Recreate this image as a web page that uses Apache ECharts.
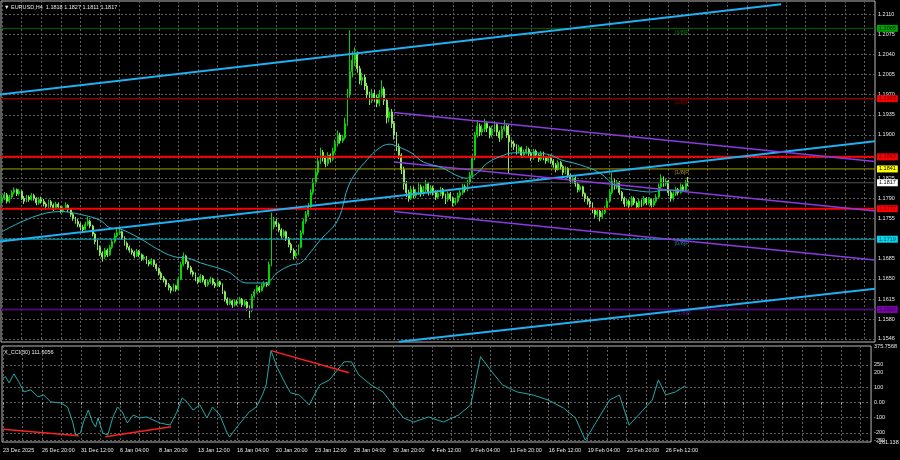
<!DOCTYPE html>
<html><head><meta charset="utf-8">
<script src="https://cdn.jsdelivr.net/npm/echarts@6/dist/echarts.min.js"></script>
<style>html,body{margin:0;padding:0;background:#000}#c{width:900px;height:460px}</style>
</head><body><div id="c"></div>
<script>
// prices are stored as pips above BASE (1.1500)
const BASE = 1.15;
// H4 candles: [open, close, low, high] in pips above BASE
const candles = [
[285,290,281,296],[290,296,287,301],[296,285,281,299],[285,292,282,296],[292,300,289,304],[300,305,297,309],[305,298,294,307],[298,302,295,306],[302,290,287,304],[290,285,280,294],[285,292,283,296],[292,288,284,295],[288,295,286,299],[295,290,286,298],[290,282,278,292],[282,288,279,292],
[288,285,281,293],[285,280,276,289],[280,276,271,283],[276,284,273,288],[284,278,274,287],[278,272,268,281],[272,280,270,284],[280,275,271,283],[275,268,264,277],[268,272,265,276],[272,278,270,283],[278,270,266,280],[270,262,258,272],[262,255,251,265],[255,250,246,258],[250,245,240,254],
[245,240,235,248],[240,236,231,244],[236,245,234,249],[245,250,242,258],[250,242,238,253],[242,228,224,244],[228,215,210,230],[215,205,200,218],[205,195,190,208],[195,188,180,198],[188,200,185,204],[200,192,188,203],[192,205,190,209],[205,215,202,220],[215,225,212,230],[225,230,222,238],
[230,232,226,240],[232,222,218,234],[222,212,208,224],[212,205,201,215],[205,200,196,208],[200,196,192,203],[196,190,186,199],[190,198,188,202],[198,192,188,200],[192,185,181,194],[185,188,182,192],[188,180,176,190],[180,176,172,183],[176,182,174,186],[182,175,171,184],[175,168,164,177],
[168,160,156,170],[160,152,148,163],[152,148,144,155],[148,140,136,150],[140,135,130,143],[135,130,125,138],[130,138,128,142],[138,132,128,140],[132,150,130,154],[150,175,148,180],[175,190,172,196],[190,180,176,192],[180,170,166,182],[170,162,158,173],[162,158,154,165],[158,150,146,161],
[150,145,141,153],[145,155,143,159],[155,148,144,157],[148,140,136,150],[140,145,137,149],[145,150,142,154],[150,142,139,152],[142,138,134,145],[138,145,136,149],[145,140,136,147],[140,128,124,142],[128,115,111,130],[115,108,104,118],[108,112,105,116],[112,105,100,114],[105,110,102,114],
[110,108,104,114],[108,115,106,119],[115,105,101,117],[105,110,102,114],[110,100,94,112],[100,95,82,104],[95,120,92,124],[120,128,117,132],[128,135,125,139],[135,130,126,138],[130,138,128,142],[138,142,135,146],[142,140,136,145],[140,175,138,180],[175,240,172,265],[240,250,236,258],
[250,245,240,254],[245,235,231,248],[235,225,221,238],[225,232,222,236],[232,220,216,234],[220,210,205,223],[210,200,195,213],[200,190,184,203],[190,195,186,199],[195,205,192,210],[205,230,203,235],[230,250,227,255],[250,262,246,268],[262,275,258,282],[275,300,272,306],[300,318,296,325],
[318,335,314,342],[335,355,330,362],[355,370,350,378],[370,360,354,374],[360,350,344,364],[350,365,346,370],[365,358,352,368],[358,372,355,378],[372,385,368,392],[385,400,380,408],[400,390,385,404],[390,395,386,400],[395,420,392,430],[420,470,416,480],[470,510,465,582],[510,530,500,545],
[530,540,520,552],[540,515,508,545],[515,495,488,520],[495,500,486,508],[500,485,478,505],[485,470,463,490],[470,460,452,475],[460,472,455,480],[472,465,458,478],[465,455,448,470],[455,470,450,478],[470,480,465,495],[480,460,452,484],[460,430,420,463],[430,440,422,448],[440,420,412,445],
[420,400,392,424],[400,380,372,405],[380,365,358,385],[365,340,332,368],[340,315,305,345],[315,300,292,320],[300,290,284,305],[290,305,287,312],[305,295,290,310],[295,300,290,306],[300,310,296,318],[310,298,293,314],[298,305,294,312],[305,315,300,322],[315,300,295,318],[300,308,296,313],
[308,300,295,312],[300,292,287,304],[292,298,289,304],[298,305,294,310],[305,295,290,308],[295,288,280,298],[288,298,284,302],[298,290,285,301],[290,282,276,293],[282,285,278,291],[285,295,282,300],[295,300,291,305],[300,310,296,315],[310,305,300,314],[305,318,302,322],[318,330,314,336],
[330,360,327,366],[360,400,356,405],[400,415,395,426],[415,405,398,420],[405,410,400,418],[410,420,405,428],[420,412,405,424],[412,400,394,415],[400,410,396,416],[410,418,405,424],[418,405,398,420],[405,395,388,408],[395,410,392,416],[410,415,406,426],[415,400,395,418],[400,388,334,418],
[388,385,378,392],[385,380,374,390],[380,372,366,384],[372,378,368,383],[378,365,360,380],[365,370,361,375],[370,375,366,381],[375,368,363,378],[368,360,355,371],[360,372,357,376],[372,365,360,375],[365,358,353,368],[358,368,355,372],[368,360,356,371],[360,355,350,363],[355,362,352,367],
[362,355,350,365],[355,348,343,358],[348,340,335,351],[340,352,338,356],[352,345,340,355],[345,335,330,348],[335,342,332,346],[342,330,325,344],[330,320,315,333],[320,325,316,330],[325,315,310,328],[315,305,300,318],[305,310,302,314],[310,298,293,312],[298,290,284,300],[290,285,279,294],
[285,280,274,289],[280,270,264,283],[270,262,256,274],[262,268,258,273],[268,258,250,270],[258,265,254,270],[265,272,262,277],[272,285,270,290],[285,300,282,306],[300,320,297,334],[320,310,305,324],[310,318,306,322],[318,300,296,320],[300,290,285,303],[290,280,275,293],[280,285,276,289],
[285,278,272,288],[278,290,275,294],[290,282,278,293],[282,275,270,285],[275,285,272,289],[285,280,275,288],[280,290,277,294],[290,282,278,292],[282,288,279,292],[288,278,274,290],[278,285,275,289],[285,292,282,297],[292,310,289,316],[310,325,306,332],[325,315,310,328],[315,320,311,324],
[320,300,294,322],[300,290,284,303],[290,298,286,302],[298,305,294,310],[305,300,295,308],[300,310,298,316],[310,305,301,314],[305,318,302,322],[318,317,311,327]
];
// moving average: [bar, pips]
const maPoints = [[0,232],[13,258],[24,267],[32,262],[40,252],[44,239],[48,237],[56,221],[63,203],[70,189],[76,186],[81,178],[92,163],[100,143],[108,143],[112,160],[118,174],[122,178],[126,197],[130,218],[137,252],[142,317],[149,357],[154,377],[158,384],[162,379],[167,369],[172,353],[179,344],[187,327],[190,325],[194,334],[198,351],[203,362],[209,369],[217,369],[224,365],[228,357],[236,348],[244,334],[251,310],[258,304],[265,301],[270,304],[280,304]];
// CCI(30): [bar, value]
const cciPoints = [[0,163],[1,173],[2.5,131],[4.5,191],[6.5,138],[8.6,71],[11.4,85],[14.3,38],[16.7,51],[19.6,5],[23.7,-2],[26.5,-29],[28.6,-129],[29.8,-215],[31.8,-202],[33,-129],[35,-49],[36.7,-129],[38,-162],[39,-102],[41,-202],[43,-215],[45,-102],[47,-29],[49,-62],[51,-135],[53.5,-82],[56,-102],[59,-95],[61.6,-115],[64.5,-135],[68.6,-149],[71.4,-62],[73.5,31],[75.5,5],[78,-49],[80.8,-15],[83.7,-102],[86,-29],[89,-82],[91.8,-195],[93,-229],[96,-162],[98.4,-115],[101,-62],[104,-29],[106.5,51],[108,118],[110,345],[112.6,231],[115.5,138],[118,65],[121.6,51],[125.7,-15],[130,118],[134,151],[140,271],[143,271],[146,185],[151,118],[156,71],[160,-15],[164.5,-102],[168.6,-129],[174.7,-95],[180.8,-129],[187,-82],[192,-15],[196,305],[200,218],[205,118],[211,71],[217.5,51],[223.7,18],[230,-35],[235,-102],[239,-249],[244,-115],[249,18],[253,51],[257,-149],[262,-62],[266.5,18],[269,151],[272,51],[276,71],[280,112]];
// CCI divergence lines: [[bar, value],[bar, value]]
const cciLines = [[[0,-177],[31,-220]],[[42,-227],[69,-160]],[[110,345],[142,198]]];
// trend lines: [[bar, pips],[bar, pips]]
const blueLines = [[[-1,470],[318,627]],[[-1,215],[356.3,389]],[[162,41],[356.3,133]]];
const purpleLines = [[[160,439],[356.3,354]],[[160,353],[356.3,268]],[[160,267],[356.3,183]]];
// horizontal levels
const levelPrices = [1.2085, 1.1963, 1.1862, 1.1841, 1.1817, 1.1772, 1.1719, 1.1597];
const levelTags = ['1.2085','1.1963','1.1862','1.1841','1.1817','1.1772','1.1719','1.1597'];
const murreyPrices = [1.2085, 1.1963, 1.1841, 1.1719, 1.1597];
const murreyTags = ['[3/8]P','[2/8]P','[1/8]P','[0/8]P','[-1/8]P'];
const murreyBar = 274.5;
// axis ticks
const priceTicks = [1.1546,1.1580,1.1615,1.1650,1.1685,1.1720,1.1755,1.1790,1.1825,1.1862,1.1900,1.1935,1.1970,1.2005,1.2040,1.2075,1.2110];
const cciLabelTicks = [375.7568,250,200,100,0,-100,-200,-250];
const cciGridTicks = [250,100,0,-100,-200,-250];
const cciMinTag = '-261.138';
const timeTickBars = [0,16,32,48,64,80,96,112,128,144,160,176,192,208,224,240,256,272];
const timeTickLabels = ['23 Dec 2025','26 Dec 20:00','31 Dec 12:00','6 Jan 04:00','8 Jan 20:00','13 Jan 12:00','16 Jan 04:00','20 Jan 20:00','23 Jan 12:00','28 Jan 04:00','30 Jan 20:00','4 Feb 12:00','9 Feb 04:00','11 Feb 20:00','16 Feb 12:00','19 Feb 04:00','23 Feb 20:00','26 Feb 12:00'];
const gridBars = [0,8,16,24,32,40,48,56,64,72,80,88,96,104,112,120,128,136,144,152,160,168,176,184,192,200,208,216,224,232,240,248,256,264,272,280,288,296,304,312,320,328,336,344,352];

const X_MIN = -0.4, X_MAX = 356.3;
const Y_MIN = 1.154056, Y_MAX = 1.213257;
const CCI_MIN = -261.138, CCI_MAX = 375.7568;

const P = v => +(BASE + v / 1e4).toFixed(5);
const FONT = 'Liberation Sans, DejaVu Sans, sans-serif';
const TXT = '#e8e8e8';
const FS = 5.5;
const gridLine = {show: true, lineStyle: {color: '#5e5e5e', type: [2, 2], width: 1}};

const levelStyle = [
  {line: '#006400', w: 1, bg: '#00a000', fg: '#002800'},
  {line: '#8b0000', w: 1.5, bg: '#ff0000', fg: '#600000'},
  {line: '#ff0000', w: 2, bg: '#ff0000', fg: '#600000'},
  {line: '#a8a000', w: 1, bg: '#ffff00', fg: '#000000'},
  {line: '#505050', w: 1, bg: '#ffffff', fg: '#000000'},
  {line: '#ff0000', w: 2, bg: '#ff0000', fg: '#600000'},
  {line: '#00b4cc', w: 1, bg: '#00d8f0', fg: '#003848'},
  {line: '#4b0a72', w: 2, bg: '#7a00a8', fg: '#28003c'}
];
const murreyColors = ['#00a000', '#b00000', '#c0b830', '#20a8c0', '#7020b0'];

const series = [];
// horizontal levels with right-axis price tags
levelPrices.forEach((v, i) => series.push({
  type: 'line', xAxisIndex: 0, yAxisIndex: 0, symbol: 'none', silent: true, clip: false,
  data: [[X_MIN, v], [X_MAX, v]],
  lineStyle: {color: levelStyle[i].line, width: levelStyle[i].w},
  endLabel: {show: true, distance: 2, formatter: levelTags[i],
    backgroundColor: levelStyle[i].bg, color: levelStyle[i].fg,
    fontSize: FS, fontFamily: FONT, padding: [1, 2, 0, 2]}
}));
// candles
series.push({
  type: 'candlestick', xAxisIndex: 0, yAxisIndex: 0,
  dimensions: ['x', 'open', 'close', 'lowest', 'highest'],
  encode: {x: 'x', y: ['open', 'close', 'lowest', 'highest']},
  data: candles.map((d, i) => [i, P(d[0]), P(d[1]), P(d[2]), P(d[3])]),
  barWidth: 1.4,
  itemStyle: {color: '#00c800', color0: '#a8f57a', borderColor: '#00d800', borderColor0: '#8ee860', borderWidth: 1}
});
// trend lines
blueLines.forEach(l => series.push({
  type: 'line', xAxisIndex: 0, yAxisIndex: 0, symbol: 'none', silent: true,
  data: l.map(p => [p[0], P(p[1])]), lineStyle: {color: '#1eb0f0', width: 2}
}));
purpleLines.forEach(l => series.push({
  type: 'line', xAxisIndex: 0, yAxisIndex: 0, symbol: 'none', silent: true,
  data: l.map(p => [p[0], P(p[1])]), lineStyle: {color: '#8a3ae0', width: 1.5}
}));
// moving average
series.push({
  type: 'line', xAxisIndex: 0, yAxisIndex: 0, symbol: 'none', smooth: 0.4, silent: true,
  data: maPoints.map(p => [p[0], P(p[1])]), lineStyle: {color: '#2ab4c8', width: 1}
});
// murrey labels
series.push({
  type: 'scatter', xAxisIndex: 0, yAxisIndex: 0, symbolSize: 0, silent: true,
  data: murreyPrices.map((v, i) => ({
    value: [murreyBar, v],
    label: {show: true, position: [0, 1], align: 'left', verticalAlign: 'top', formatter: murreyTags[i],
      color: murreyColors[i], fontSize: FS, fontFamily: FONT}
  }))
});
// CCI
series.push({
  type: 'line', xAxisIndex: 1, yAxisIndex: 1, symbol: 'none', silent: true,
  data: cciPoints, lineStyle: {color: '#20aaa8', width: 1}
});
cciLines.forEach(l => series.push({
  type: 'line', xAxisIndex: 1, yAxisIndex: 1, symbol: 'none', silent: true,
  data: l, lineStyle: {color: '#ff2020', width: 1.5}
}));

const tStyle = {color: TXT, fontSize: FS, fontFamily: FONT, fontWeight: 'normal'};
const chart = echarts.init(document.getElementById('c'), null, {renderer: 'canvas'});
chart.setOption({
  backgroundColor: '#000',
  animation: false,
  title: [
    {text: '\u25BC EURUSD,H4  1.1818 1.1827 1.1811 1.1817', left: 4, top: 4, padding: 0, textStyle: tStyle},
    {text: 'X_CCI(30) 111.6056', left: 4, top: 349, padding: 0, textStyle: tStyle},
    {text: cciMinTag, left: 877, top: 439, padding: 0, textStyle: tStyle}
  ],
  grid: [
    {left: 1, right: 25, top: 1, height: 341, show: true, borderColor: '#b8b8b8', borderWidth: 1, backgroundColor: 'transparent'},
    {left: 1, right: 25, top: 346, height: 96, show: true, borderColor: '#b8b8b8', borderWidth: 1, backgroundColor: 'transparent'}
  ],
  xAxis: [
    {type: 'value', gridIndex: 0, min: X_MIN, max: X_MAX,
      axisLine: {show: false}, axisTick: {show: false, customValues: gridBars},
      axisLabel: {show: false}, splitLine: gridLine},
    {type: 'value', gridIndex: 1, min: X_MIN, max: X_MAX,
      axisLine: {show: false},
      axisTick: {show: true, customValues: gridBars, length: 2, lineStyle: {color: '#b8b8b8'}},
      axisLabel: {show: true, customValues: timeTickBars, align: 'left', margin: 5,
        formatter: v => timeTickLabels[timeTickBars.indexOf(Math.round(v))] || '',
        color: TXT, fontSize: FS, fontFamily: FONT},
      splitLine: gridLine}
  ],
  yAxis: [
    {type: 'value', gridIndex: 0, position: 'right', min: Y_MIN, max: Y_MAX,
      axisLine: {show: false}, axisTick: {show: false, customValues: priceTicks},
      axisLabel: {show: true, customValues: priceTicks, margin: 3, formatter: v => v.toFixed(4),
        color: TXT, fontSize: FS, fontFamily: FONT},
      splitLine: gridLine},
    {type: 'value', gridIndex: 1, position: 'right', min: CCI_MIN, max: CCI_MAX,
      axisLine: {show: false}, axisTick: {show: false, customValues: cciGridTicks},
      axisLabel: {show: true, customValues: cciLabelTicks, margin: 3,
        formatter: v => (v === 0 ? '0.00' : String(v)),
        color: TXT, fontSize: FS, fontFamily: FONT},
      splitLine: gridLine}
  ],
  series: series
});
</script>
</body></html>
